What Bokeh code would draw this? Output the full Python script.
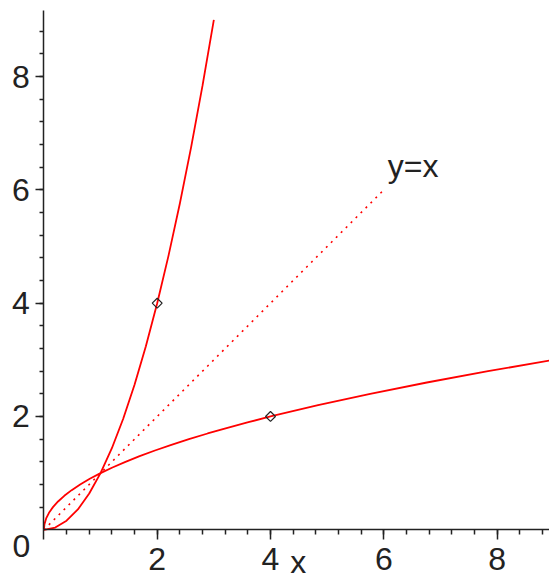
import numpy as np
from bokeh.plotting import figure
from bokeh.models import Range1d, FixedTicker, Label
from bokeh.embed import file_html
from bokeh.resources import INLINE

# y = x^2 branch
sq_x = [0, 0.2, 0.4, 0.6, 0.8, 1.0, 1.2, 1.4, 1.6, 1.8, 2.0, 2.2, 2.4, 2.6, 2.8, 3.0]
sq_y = [0, 0.04, 0.16, 0.36, 0.64, 1.0, 1.44, 1.96, 2.56, 3.24, 4.0, 4.84, 5.76, 6.76, 7.84, 9.0]

# y = sqrt(x) branch
rt_x = [0, 0.01, 0.04, 0.09, 0.16, 0.25, 0.36, 0.49, 0.64, 0.81, 1.0, 1.21, 1.44, 1.69,
        1.96, 2.25, 2.56, 2.89, 3.24, 3.61, 4.0, 4.84, 5.76, 6.76, 7.84, 9.0]
rt_y = [0, 0.1, 0.2, 0.3, 0.4, 0.5, 0.6, 0.7, 0.8, 0.9, 1.0, 1.1, 1.2, 1.3,
        1.4, 1.5, 1.6, 1.7, 1.8, 1.9, 2.0, 2.2, 2.4, 2.6, 2.8, 3.0]

# y = x reference line
id_x = [0, 6]
id_y = [0, 6]

# marked points
pt_x = [2, 4]
pt_y = [4, 2]

x_ticks = [0, 2, 4, 6, 8]
y_ticks = [2, 4, 6, 8]

FONT = "Liberation Sans"
FS = "32px"
INK = "#222222"

p = figure(width=549, height=580, output_backend="svg", toolbar_location=None,
           x_range=Range1d(-0.766, 8.925), y_range=Range1d(-0.895, 9.343),
           min_border=0, background_fill_color="white",
           border_fill_color="white")
p.grid.visible = False
p.outline_line_color = None

minor = [round(0.4 * i, 2) for i in range(1, 23)]
p.xaxis.ticker = FixedTicker(ticks=x_ticks, minor_ticks=minor)
p.yaxis.ticker = FixedTicker(ticks=y_ticks, minor_ticks=minor)
p.xaxis.major_label_overrides = {0: ""}
p.xaxis.fixed_location = 0
p.yaxis.fixed_location = 0
p.xaxis.bounds = (0, 8.925)
p.yaxis.bounds = (0, 9.17)

for ax in (p.xaxis, p.yaxis):
    ax.axis_line_color = INK
    ax.axis_line_width = 1.5
    ax.major_tick_line_color = INK
    ax.major_tick_line_width = 1.5
    ax.minor_tick_line_color = INK
    ax.minor_tick_line_width = 1.5
    ax.major_tick_in = 0
    ax.minor_tick_in = 0
    ax.major_label_text_font = FONT
    ax.major_label_text_font_size = FS
    ax.major_label_text_color = INK

p.xaxis.major_tick_out = 10
p.xaxis.minor_tick_out = 5
p.xaxis.major_label_standoff = 8
p.yaxis.major_tick_out = 8
p.yaxis.minor_tick_out = 4
p.yaxis.major_label_standoff = 6

p.line(sq_x, sq_y, line_color="#ff0000", line_width=1.8)
p.line(rt_x, rt_y, line_color="#ff0000", line_width=1.8)
p.line(id_x, id_y, line_color="#ff0000", line_width=1.6, line_dash="2 5")
p.scatter(pt_x, pt_y, marker="square", angle=np.pi / 4, size=7, fill_alpha=0,
          line_color="#222222", line_width=1.2)

p.add_layout(Label(x=6.07, y=6.43, text="y=x", text_font=FONT,
                   text_font_size=FS, text_color=INK,
                   text_baseline="alphabetic"))
p.add_layout(Label(x=-0.395, y=-0.29, text="0", text_font=FONT,
                   text_font_size=FS, text_color=INK, text_align="center",
                   text_baseline="alphabetic"))
p.add_layout(Label(x=4.49, y=-0.56, text="x", text_font=FONT,
                   text_font_size=FS, text_color=INK, text_align="center",
                   text_baseline="alphabetic"))

open("out.html", "w").write(file_html(p, INLINE))
